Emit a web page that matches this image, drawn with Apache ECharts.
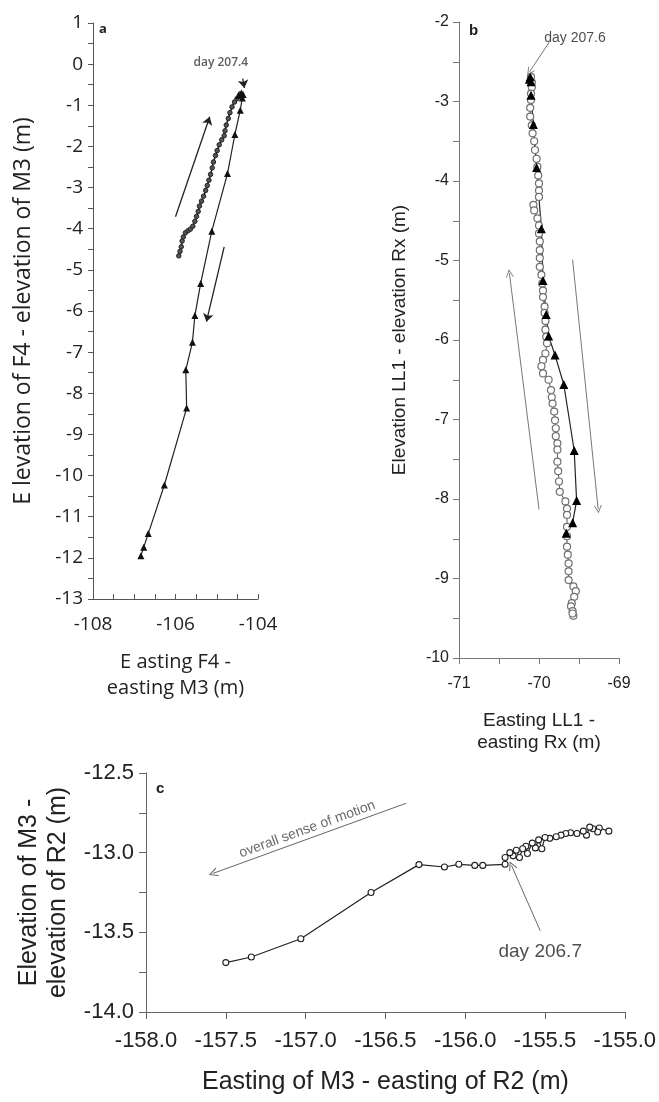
<!DOCTYPE html>
<html>
<head>
<meta charset="utf-8">
<script src="https://cdn.jsdelivr.net/npm/echarts@6/dist/echarts.min.js"></script>
<style>
  html, body { margin: 0; padding: 0; background: #fff; }
  #chart { width: 659px; height: 1102px; }
</style>
</head>
<body>
<div id="chart"></div>
<script>
// panel a : F4 relative to M3 (rising = circles, falling = triangles)
var aRising = [
  [-105.92, -4.66], [-105.89, -4.55], [-105.86, -4.44], [-105.84, -4.30], [-105.81, -4.20],
  [-105.76, -4.10], [-105.70, -4.05], [-105.64, -4.01], [-105.58, -3.94], [-105.53, -3.82],
  [-105.49, -3.70], [-105.45, -3.58], [-105.42, -3.45], [-105.37, -3.33], [-105.32, -3.21],
  [-105.27, -3.07], [-105.23, -2.95], [-105.19, -2.82], [-105.15, -2.68], [-105.11, -2.52],
  [-105.08, -2.38], [-105.03, -2.22], [-104.99, -2.10], [-104.94, -1.96], [-104.88, -1.84],
  [-104.82, -1.74], [-104.80, -1.62], [-104.77, -1.48], [-104.72, -1.32], [-104.68, -1.18],
  [-104.63, -1.04], [-104.57, -0.92], [-104.51, -0.84], [-104.46, -0.78], [-104.43, -0.72]
];
var aFalling = [
  [-104.47, -0.76], [-104.40, -0.70], [-104.36, -0.74], [-104.38, -0.82], [-104.43, -1.12],
  [-104.56, -1.71], [-104.74, -2.66], [-105.12, -4.06], [-105.39, -5.33], [-105.53, -6.11],
  [-105.59, -6.76], [-105.75, -7.43], [-105.73, -8.36], [-106.27, -10.23], [-106.66, -11.41],
  [-106.77, -11.74], [-106.84, -11.95]
];

// panel b : LL1 relative to Rx
var bCircles = [
  [-70.10, -2.69], [-70.09, -2.76], [-70.09, -2.82], [-70.10, -2.90], [-70.10, -2.98],
  [-70.11, -3.08], [-70.11, -3.19], [-70.09, -3.30], [-70.08, -3.40], [-70.06, -3.50],
  [-70.05, -3.61], [-70.03, -3.72], [-70.02, -3.82], [-70.01, -3.93], [-70.00, -4.03],
  [-70.00, -4.12], [-70.00, -4.20], [-70.07, -4.30], [-70.06, -4.37], [-70.02, -4.47],
  [-70.00, -4.56], [-70.00, -4.66], [-69.99, -4.76], [-69.99, -4.87], [-69.99, -4.97],
  [-69.99, -5.08], [-69.97, -5.18], [-69.96, -5.29], [-69.95, -5.38], [-69.95, -5.46],
  [-69.93, -5.58], [-69.93, -5.66], [-69.92, -5.76], [-69.92, -5.87], [-69.91, -5.96],
  [-69.90, -6.04], [-69.92, -6.17], [-69.95, -6.25], [-69.97, -6.33], [-69.95, -6.42],
  [-69.88, -6.50], [-69.85, -6.63], [-69.84, -6.72], [-69.83, -6.80], [-69.81, -6.90],
  [-69.80, -7.01], [-69.79, -7.11], [-69.79, -7.21], [-69.77, -7.30], [-69.77, -7.38],
  [-69.77, -7.53], [-69.76, -7.65], [-69.75, -7.78], [-69.74, -7.91], [-69.67, -8.03],
  [-69.65, -8.12], [-69.65, -8.20], [-69.65, -8.35], [-69.65, -8.47], [-69.65, -8.60],
  [-69.64, -8.70], [-69.63, -8.81], [-69.63, -8.91], [-69.63, -9.02], [-69.57, -9.10],
  [-69.54, -9.16], [-69.56, -9.23], [-69.59, -9.31], [-69.60, -9.35], [-69.58, -9.41],
  [-69.57, -9.47], [-69.58, -9.44]
];
var bTriangles = [
  [-70.11, -2.69], [-70.12, -2.72], [-70.10, -2.75], [-70.10, -2.92], [-70.07, -3.29],
  [-70.03, -3.83], [-69.97, -4.60], [-69.95, -5.25], [-69.91, -5.68], [-69.88, -5.95],
  [-69.80, -6.19], [-69.69, -6.56], [-69.56, -7.39], [-69.53, -8.02], [-69.58, -8.30],
  [-69.66, -8.43]
];

// panel c : M3 relative to R2
var cPath = [
  [-155.10, -12.865], [-155.16, -12.845], [-155.17, -12.87], [-155.20, -12.85], [-155.22, -12.84],
  [-155.24, -12.89], [-155.26, -12.865], [-155.30, -12.88], [-155.34, -12.875], [-155.37, -12.88],
  [-155.40, -12.89], [-155.43, -12.90], [-155.47, -12.91], [-155.50, -12.905], [-155.52, -12.975],
  [-155.54, -12.92], [-155.56, -12.97], [-155.58, -12.94], [-155.61, -13.005], [-155.62, -12.96],
  [-155.64, -12.975], [-155.66, -13.03], [-155.68, -12.985], [-155.70, -13.02], [-155.72, -13.00],
  [-155.75, -13.03], [-155.75, -13.073], [-155.89, -13.08], [-155.94, -13.08], [-156.04, -13.073],
  [-156.13, -13.09], [-156.29, -13.075], [-156.59, -13.25], [-157.03, -13.54], [-157.34, -13.655],
  [-157.50, -13.69]
];

// annotations: [x, y, text] and arrows [x0, y0, x1, y1] (head at x1, y1)
var aNotes = [[-104.9, 0.05, 'day 207.4']];
var aArrows = [[-106.0, -3.71, -105.17, -1.28], [-104.82, -4.44, -105.25, -6.26], [-104.37, -0.35, -104.33, -0.58]];
var bNotes = [[-69.55, -2.20, 'day 207.6']];
var bArrows = [[-70.00, -8.13, -70.37, -5.16], [-69.58, -4.99, -69.26, -8.13], [-69.87, -2.25, -70.12, -2.63]];
var cNotes = [[-155.53, -13.62, 'day 206.7']];
var cMotion = [[-156.99, -12.853, 'overall sense of motion']];
var cArrows = [[-156.37, -12.69, -157.58, -13.13], [-155.53, -13.49, -155.71, -13.08]];

var chevron = 'path://M0,10 L5,0 L10,10 L8.8,10 L5,2.4 L1.2,10 Z';

function arrowData(list, head, size) {
  return list.map(function (a) {
    return [{coord: [a[0], a[1]], symbol: 'none'}, {coord: [a[2], a[3]], symbol: head, symbolSize: size}];
  });
}

function noteSeries(xi, notes, font, extra) {
  var s = {
    type: 'scatter', xAxisIndex: xi, yAxisIndex: xi, silent: true, z: 5,
    symbolSize: 0, data: notes,
    label: Object.assign({
      show: true, position: 'inside',
      formatter: function (p) { return p.data[2]; }
    }, font)
  };
  return Object.assign(s, extra || {});
}

var sans = 'Liberation Sans';
var myriad = 'Open Sans';

function axisBase(color, fam, fs, margin, inside, tickLen) {
  return {
    type: 'value',
    axisLine: {show: true, onZero: false, lineStyle: {color: color, width: 1}},
    axisTick: {show: true, inside: inside, length: tickLen, lineStyle: {color: color}},
    splitLine: {show: false},
    axisLabel: {color: '#222', fontSize: fs, fontFamily: fam, margin: margin}
  };
}

var chart = echarts.init(document.getElementById('chart'));

var option = {
  animation: false,
  backgroundColor: '#fff',
  title: [
    {text: 'a', left: 99, top: 23, padding: 0, textStyle: {fontSize: 13, fontWeight: 'bold', fontFamily: myriad, color: '#222'}},
    {text: 'b', left: 469, top: 23, padding: 0, textStyle: {fontSize: 15, fontWeight: 'bold', fontFamily: sans, color: '#222'}},
    {text: 'c', left: 156, top: 781, padding: 0, textStyle: {fontSize: 15, fontWeight: 'bold', fontFamily: sans, color: '#222'}}
  ],
  grid: [
    {left: 93, top: 23, width: 165, height: 576},
    {left: 459, top: 22, width: 160, height: 636},
    {left: 146, top: 773, width: 479, height: 239}
  ],
  xAxis: [
    Object.assign(axisBase('#555', myriad, 19, 16, true, 5), {
      gridIndex: 0, min: -108, max: -104, interval: 2,
      minorTick: {show: true, splitNumber: 4, length: 5, lineStyle: {color: '#555'}},
      name: 'E asting F4 -\neasting M3 (m)', nameLocation: 'middle', nameGap: 50,
      nameTextStyle: {fontSize: 20, fontFamily: myriad, color: '#222', lineHeight: 26}
    }),
    Object.assign(axisBase('#777', sans, 16, 18, false, 6), {
      gridIndex: 1, min: -71, max: -69, interval: 1,
      minorTick: {show: true, splitNumber: 2, length: 6, lineStyle: {color: '#777'}},
      name: 'Easting LL1 -\neasting Rx (m)', nameLocation: 'middle', nameGap: 52,
      nameTextStyle: {fontSize: 19, fontFamily: sans, color: '#222', lineHeight: 22}
    }),
    Object.assign(axisBase('#666', sans, 22, 18, false, 7), {
      gridIndex: 2, min: -158, max: -155, interval: 0.5,
      axisLabel: {color: '#222', fontSize: 22, fontFamily: sans, margin: 18,
        formatter: function (v) { return v.toFixed(1); }},
      name: 'Easting of M3 - easting of R2 (m)', nameLocation: 'middle', nameGap: 58,
      nameTextStyle: {fontSize: 25, fontFamily: sans, color: '#222'}
    })
  ],
  yAxis: [
    Object.assign(axisBase('#555', myriad, 19, 10, false, 5), {
      gridIndex: 0, min: -13, max: 1, interval: 1,
      minorTick: {show: true, splitNumber: 2, length: 5, lineStyle: {color: '#555'}},
      name: 'E levation of F4 - elevation of M3 (m)', nameLocation: 'middle', nameRotate: 90, nameGap: 58,
      nameTextStyle: {fontSize: 23, fontFamily: myriad, color: '#222'}
    }),
    Object.assign(axisBase('#777', sans, 16, 10, false, 6), {
      gridIndex: 1, min: -10, max: -2, interval: 1,
      minorTick: {show: true, splitNumber: 2, length: 6, lineStyle: {color: '#777'}},
      name: 'Elevation LL1 - elevation Rx (m)', nameLocation: 'middle', nameRotate: 90, nameGap: 50,
      nameTextStyle: {fontSize: 19, fontFamily: sans, color: '#222'}
    }),
    Object.assign(axisBase('#666', sans, 22, 12, false, 7), {
      gridIndex: 2, min: -14, max: -12.5, interval: 0.5,
      minorTick: {show: true, splitNumber: 2, length: 7, lineStyle: {color: '#666'}},
      axisLabel: {color: '#222', fontSize: 22, fontFamily: sans, margin: 12,
        formatter: function (v) { return v.toFixed(1); }},
      name: 'Elevation of M3 -\nelevation of R2 (m)', nameLocation: 'middle', nameRotate: 90, nameGap: 70,
      nameTextStyle: {fontSize: 25, fontFamily: sans, color: '#222', lineHeight: 29}
    })
  ],
  series: [
    {
      type: 'line', xAxisIndex: 0, yAxisIndex: 0, data: aRising,
      symbol: 'circle', symbolSize: 4.5, showAllSymbol: true,
      itemStyle: {color: '#555', borderColor: '#222', borderWidth: 1},
      lineStyle: {color: '#222', width: 1.6}
    },
    {
      type: 'line', xAxisIndex: 0, yAxisIndex: 0, data: aFalling,
      symbol: 'triangle', symbolSize: 7, showAllSymbol: true,
      itemStyle: {color: '#111'},
      lineStyle: {color: '#222', width: 1.2}
    },
    {
      type: 'line', xAxisIndex: 1, yAxisIndex: 1, data: bCircles,
      symbol: 'circle', symbolSize: 7, showAllSymbol: true,
      itemStyle: {color: '#fff', borderColor: '#707070', borderWidth: 1.2},
      lineStyle: {color: '#555', width: 1}
    },
    {
      type: 'line', xAxisIndex: 1, yAxisIndex: 1, data: bTriangles, z: 3,
      symbol: 'triangle', symbolSize: 9, showAllSymbol: true,
      itemStyle: {color: '#000'},
      lineStyle: {color: '#222', width: 1.2}
    },
    {
      type: 'line', xAxisIndex: 2, yAxisIndex: 2, data: cPath,
      symbol: 'circle', symbolSize: 6, showAllSymbol: true,
      itemStyle: {color: '#fff', borderColor: '#222', borderWidth: 1.1},
      lineStyle: {color: '#222', width: 1.2}
    },
    noteSeries(0, aNotes, {fontSize: 12, fontWeight: 600, fontFamily: myriad, color: '#333'}, {
      markLine: {silent: true, label: {show: false}, lineStyle: {color: '#222', width: 1.3, type: 'solid'},
        data: arrowData(aArrows, 'arrow', 8)}
    }),
    noteSeries(1, bNotes, {fontSize: 14, fontFamily: sans, color: '#222'}, {
      markLine: {silent: true, label: {show: false}, lineStyle: {color: '#777', width: 1, type: 'solid'},
        data: arrowData(bArrows, chevron, 8)}
    }),
    noteSeries(2, cNotes, {fontSize: 19, fontFamily: sans, color: '#222'}, {
      markLine: {silent: true, label: {show: false}, lineStyle: {color: '#666', width: 1, type: 'solid'},
        data: arrowData(cArrows, chevron, 9)}
    }),
    noteSeries(2, cMotion, {fontSize: 14, fontFamily: sans, color: '#444', rotate: 20})
  ]
};

chart.setOption(option);
</script>
</body>
</html>
